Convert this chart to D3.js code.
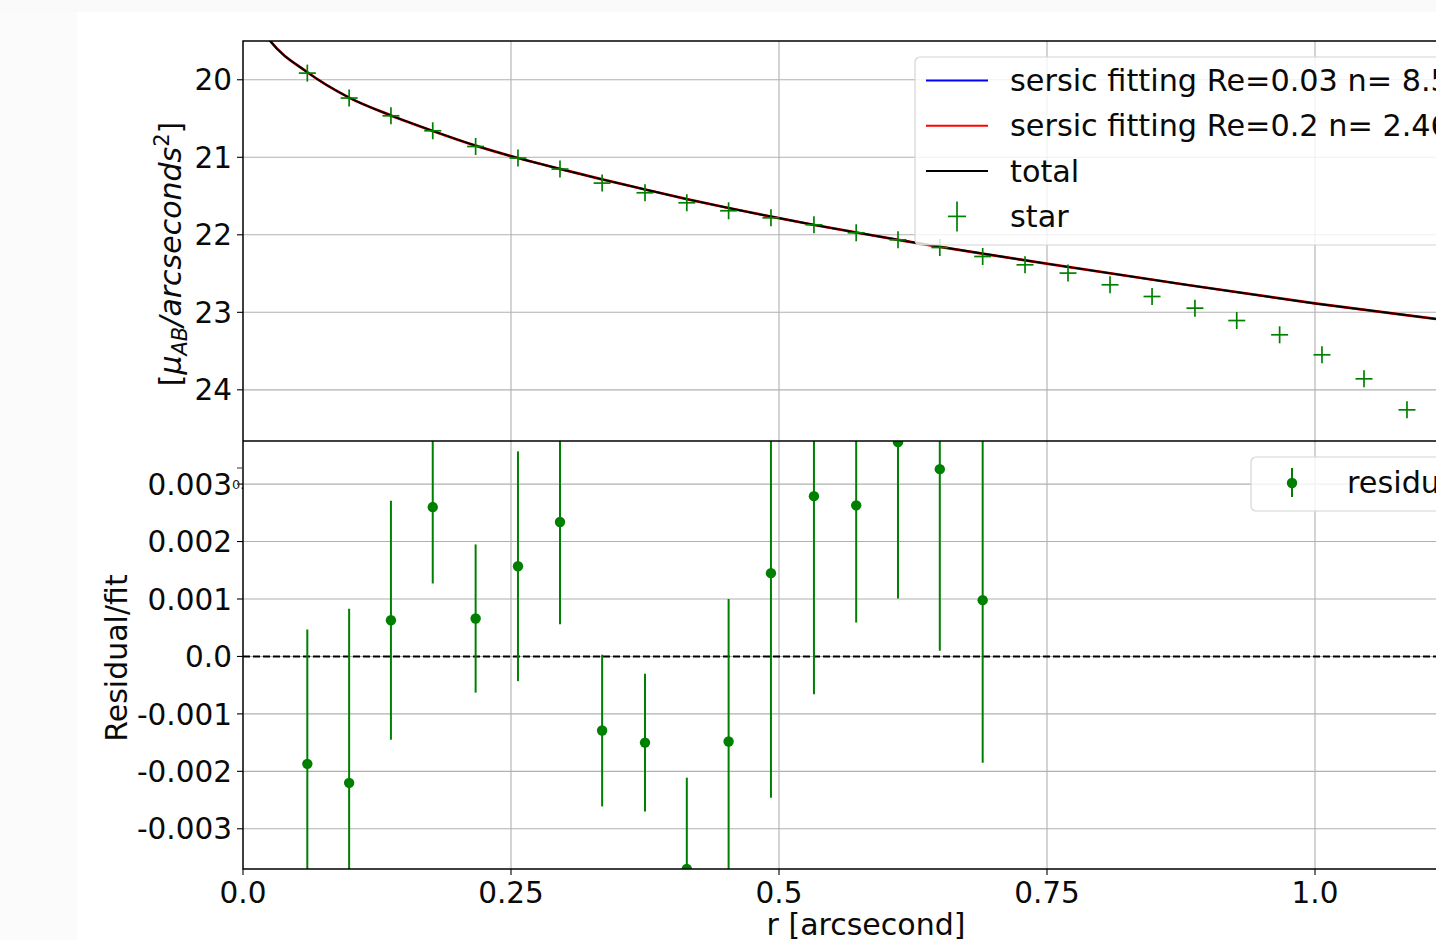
<!DOCTYPE html>
<html>
<head>
<meta charset="utf-8">
<script src="https://cdn.jsdelivr.net/npm/d3@7"></script>
<style>
  html, body { margin: 0; padding: 0; background: #fff; }
  svg { display: block; font-family: "DejaVu Sans", sans-serif; }
</style>
</head>
<body>
<div id="chart"></div>
<script>
// radii of the measured points [arcsec]
const starR = [0.060, 0.099, 0.138, 0.177, 0.217, 0.2565, 0.2957, 0.335, 0.375, 0.414,
  0.453, 0.4925, 0.5326, 0.572, 0.611, 0.650, 0.690, 0.7295, 0.7696, 0.8088,
  0.848, 0.888, 0.927, 0.967, 1.0065, 1.0457, 1.0858]
// star surface brightness [mag/arcsec^2]
const starMag = [19.914, 20.236, 20.465, 20.658, 20.861, 21.010, 21.152, 21.333, 21.458, 21.587,
  21.690, 21.781, 21.871, 21.974, 22.065, 22.164, 22.280, 22.387, 22.494, 22.645,
  22.796, 22.946, 23.106, 23.290, 23.548, 23.858, 24.258]

// total fit (red component sits under it)
const fitR = [0.015, 0.0252, 0.0597, 0.099, 0.138, 0.177, 0.217, 0.2565, 0.2957, 0.335, 0.375,
  0.414, 0.453, 0.4925, 0.532, 0.572, 0.611, 0.650, 0.700, 0.751, 0.875, 1.0, 1.113, 1.2]
const fitMag = [19.30, 19.497, 19.90, 20.23, 20.46, 20.66, 20.85, 21.01, 21.15, 21.285, 21.415,
  21.54, 21.655, 21.765, 21.87, 21.97, 22.065, 22.155, 22.265, 22.375, 22.635, 22.885, 23.085, 23.235]

// residual / fit with errors, first 17 radii
const resVal = [-0.00187, -0.00220, 0.00063, 0.00260, 0.00066, 0.00157, 0.00234, -0.00129, -0.00150,
  -0.00370, -0.00148, 0.00145, 0.00279, 0.00263, 0.00373, 0.00326, 0.00098]
const resErr = [0.00234, 0.00303, 0.00208, 0.00133, 0.00129, 0.00200, 0.00178, 0.00132, 0.00120,
  0.00159, 0.00248, 0.00391, 0.00345, 0.00204, 0.00272, 0.00316, 0.00283]

const xTicks = [0, 0.25, 0.5, 0.75, 1.0]
const xTickLabels = ['0.0', '0.25', '0.5', '0.75', '1.0']
const magTicks = [20, 21, 22, 23, 24]
const resTicks = [0.003, 0.002, 0.001, 0, -0.001, -0.002, -0.003]
const resTickLabels = ['0.003', '0.002', '0.001', '0.0', '-0.001', '-0.002', '-0.003']

const legendTop = [
  {label: 'sersic fitting Re=0.03 n= 8.5', color: 'blue', kind: 'line'},
  {label: 'sersic fitting Re=0.2 n= 2.46', color: 'red', kind: 'line'},
  {label: 'total', color: 'black', kind: 'line'},
  {label: 'star', color: 'green', kind: 'plus'}
]

const W = 1436, H = 940
const left = 243, right = 1530, top1 = 41, mid = 441, bottom = 869
const FS = 29.5, LFS = 30.3
const green = '#008000'
const grid = '#b0b0b0'
const ink = '#0a0a0a'

const x = d3.scaleLinear().domain([0, 1.2]).range([left, left + 1.2 * 1072])
const yMag = d3.scaleLinear().domain([19.5, 24.66]).range([top1, mid])
const yRes = d3.scaleLinear().domain([-0.0037, 0.00375]).range([bottom, mid])

const svg = d3.select('#chart').append('svg').attr('width', W).attr('height', H)

// faint window edges
svg.append('rect').attr('x', 0).attr('y', 0).attr('width', W).attr('height', 12).attr('fill', '#fafafa')
svg.append('rect').attr('x', 0).attr('y', 12).attr('width', 77).attr('height', H - 12).attr('fill', '#fbfbfb')

const defs = svg.append('defs')
defs.append('clipPath').attr('id', 'clipTop').append('rect')
  .attr('x', left).attr('y', top1).attr('width', right - left).attr('height', mid - top1)
defs.append('clipPath').attr('id', 'clipRes').append('rect')
  .attr('x', left).attr('y', mid).attr('width', right - left).attr('height', bottom - mid)

// ---------- top panel ----------
const gTop = svg.append('g')
gTop.append('g').selectAll('line').data(xTicks).enter().append('line')
  .attr('x1', d => x(d)).attr('x2', d => x(d)).attr('y1', top1).attr('y2', mid)
  .attr('stroke', grid).attr('stroke-width', 1.1)
gTop.append('g').selectAll('line').data(magTicks).enter().append('line')
  .attr('x1', left).attr('x2', right).attr('y1', d => yMag(d)).attr('y2', d => yMag(d))
  .attr('stroke', grid).attr('stroke-width', 1.1)

const fitPts = fitR.map((r, i) => [r, fitMag[i]])
const line = d3.line().x(d => x(d[0])).y(d => yMag(d[1])).curve(d3.curveMonotoneX)
const gFit = gTop.append('g').attr('clip-path', 'url(#clipTop)')
gFit.append('path').attr('d', line(fitPts)).attr('fill', 'none').attr('stroke', 'red').attr('stroke-width', 2.7)
gFit.append('path').attr('d', line(fitPts)).attr('fill', 'none').attr('stroke', 'black').attr('stroke-width', 2)

const plus = gFit.selectAll('g.star').data(starR.map((r, i) => [r, starMag[i]])).enter().append('g')
  .attr('transform', d => `translate(${x(d[0])},${yMag(d[1])})`)
plus.append('line').attr('x1', -8.5).attr('x2', 8.5).attr('stroke', green).attr('stroke-width', 1.7)
plus.append('line').attr('y1', -8.5).attr('y2', 8.5).attr('stroke', green).attr('stroke-width', 1.7)

// y axis of top panel
const gYTop = gTop.append('g')
gYTop.selectAll('line').data(magTicks).enter().append('line')
  .attr('x1', left - 6).attr('x2', left).attr('y1', d => yMag(d)).attr('y2', d => yMag(d))
  .attr('stroke', 'black').attr('stroke-width', 1.1)
gYTop.selectAll('text').data(magTicks).enter().append('text')
  .attr('x', left - 11).attr('y', d => yMag(d)).attr('dy', '0.36em')
  .attr('text-anchor', 'end').attr('font-size', FS).attr('fill', ink).text(d => d)

// legend
const lg = gTop.append('g')
lg.append('rect').attr('x', 915).attr('y', 57).attr('width', 640).attr('height', 188).attr('rx', 5)
  .attr('fill', 'rgba(255,255,255,0.82)').attr('stroke', '#d4d4d4').attr('stroke-width', 1.2)
const rows = lg.selectAll('g.row').data(legendTop).enter().append('g')
  .attr('transform', (d, i) => `translate(0,${80.5 + i * 45.3})`)
rows.filter(d => d.kind === 'line').append('line')
  .attr('x1', 926).attr('x2', 988).attr('stroke', d => d.color).attr('stroke-width', 2)
const lp = rows.filter(d => d.kind === 'plus')
lp.append('line').attr('x1', 948).attr('x2', 966).attr('stroke', green).attr('stroke-width', 1.7)
lp.append('line').attr('x1', 957).attr('x2', 957).attr('y1', -15).attr('y2', 15).attr('stroke', green).attr('stroke-width', 1.7)
rows.append('text').attr('x', 1010).attr('y', 10.5).attr('font-size', LFS).attr('fill', ink).text(d => d.label)

// y label top (mathtext look)
const yl = gTop.append('text').attr('transform', 'translate(181,254) rotate(-90)')
  .attr('text-anchor', 'middle').attr('font-size', 30).attr('fill', ink)
yl.append('tspan').text('[')
yl.append('tspan').attr('font-style', 'italic').text('μ')
yl.append('tspan').attr('font-style', 'italic').attr('font-size', 21).attr('dy', 6).text('AB')
yl.append('tspan').attr('font-style', 'italic').attr('dy', -6).text('/arcseconds')
yl.append('tspan').attr('font-size', 21).attr('dy', -12).text('2')
yl.append('tspan').attr('dy', 12).text(']')

// ---------- residual panel ----------
const gRes = svg.append('g')
gRes.append('g').selectAll('line').data(xTicks).enter().append('line')
  .attr('x1', d => x(d)).attr('x2', d => x(d)).attr('y1', mid).attr('y2', bottom)
  .attr('stroke', grid).attr('stroke-width', 1.1)
gRes.append('g').selectAll('line').data(resTicks).enter().append('line')
  .attr('x1', left).attr('x2', right).attr('y1', d => yRes(d)).attr('y2', d => yRes(d))
  .attr('stroke', grid).attr('stroke-width', 1.1)

const gPts = gRes.append('g').attr('clip-path', 'url(#clipRes)')
gPts.append('line').attr('x1', left).attr('x2', right).attr('y1', yRes(0)).attr('y2', yRes(0))
  .attr('stroke', 'black').attr('stroke-width', 2).attr('stroke-dasharray', '7,3')
const resData = resVal.map((v, i) => ({r: starR[i], v, e: resErr[i]}))
gPts.selectAll('line.err').data(resData).enter().append('line')
  .attr('x1', d => x(d.r)).attr('x2', d => x(d.r))
  .attr('y1', d => yRes(d.v - d.e)).attr('y2', d => yRes(d.v + d.e))
  .attr('stroke', green).attr('stroke-width', 2)
gPts.selectAll('circle').data(resData).enter().append('circle')
  .attr('cx', d => x(d.r)).attr('cy', d => yRes(d.v)).attr('r', 5.2).attr('fill', green)

// y axis residual
const gYRes = gRes.append('g')
gYRes.selectAll('line').data(resTicks).enter().append('line')
  .attr('x1', left - 6).attr('x2', left).attr('y1', d => yRes(d)).attr('y2', d => yRes(d))
  .attr('stroke', 'black').attr('stroke-width', 1.1)
gYRes.selectAll('text').data(resTicks).enter().append('text')
  .attr('x', left - 11).attr('y', d => yRes(d)).attr('dy', '0.36em')
  .attr('text-anchor', 'end').attr('font-size', FS).attr('fill', ink)
  .text((d, i) => resTickLabels[i])
// stray offset text peeking out by the axis
gRes.append('line').attr('x1', 237).attr('x2', 242).attr('y1', 468).attr('y2', 468).attr('stroke', '#333').attr('stroke-width', 1)
gRes.append('text').attr('x', 232).attr('y', 489).attr('font-size', 13).attr('fill', '#222').text('0.')

// x axis
const gX = gRes.append('g')
gX.selectAll('line').data(xTicks).enter().append('line')
  .attr('x1', d => x(d)).attr('x2', d => x(d)).attr('y1', bottom).attr('y2', bottom + 6)
  .attr('stroke', 'black').attr('stroke-width', 1.1)
gX.selectAll('text').data(xTicks).enter().append('text')
  .attr('x', d => x(d)).attr('y', 903).attr('text-anchor', 'middle')
  .attr('font-size', FS).attr('fill', ink).text((d, i) => xTickLabels[i])
gRes.append('text').attr('x', 866).attr('y', 935).attr('text-anchor', 'middle')
  .attr('font-size', 30).attr('fill', ink).text('r [arcsecond]')
gRes.append('text').attr('transform', 'translate(127,658) rotate(-90)').attr('text-anchor', 'middle')
  .attr('font-size', 30).attr('fill', ink).text('Residual/fit')

// residual legend (runs past the right edge, as in the original)
const lr = gRes.append('g')
lr.append('rect').attr('x', 1251).attr('y', 457).attr('width', 300).attr('height', 54).attr('rx', 5)
  .attr('fill', 'rgba(255,255,255,0.82)').attr('stroke', '#d4d4d4').attr('stroke-width', 1.2)
lr.append('line').attr('x1', 1292).attr('x2', 1292).attr('y1', 468).attr('y2', 497).attr('stroke', green).attr('stroke-width', 2)
lr.append('circle').attr('cx', 1292).attr('cy', 483).attr('r', 5.2).attr('fill', green)
lr.append('text').attr('x', 1347).attr('y', 493).attr('font-size', LFS).attr('fill', ink).text('residual')

// frames
const frame = svg.append('g').attr('fill', 'none').attr('stroke', 'black').attr('stroke-width', 1.4)
frame.append('path').attr('d', `M${right},${top1}H${left}V${bottom}H${right}`)
frame.append('line').attr('x1', left).attr('x2', right).attr('y1', mid).attr('y2', mid)
</script>
</body>
</html>
